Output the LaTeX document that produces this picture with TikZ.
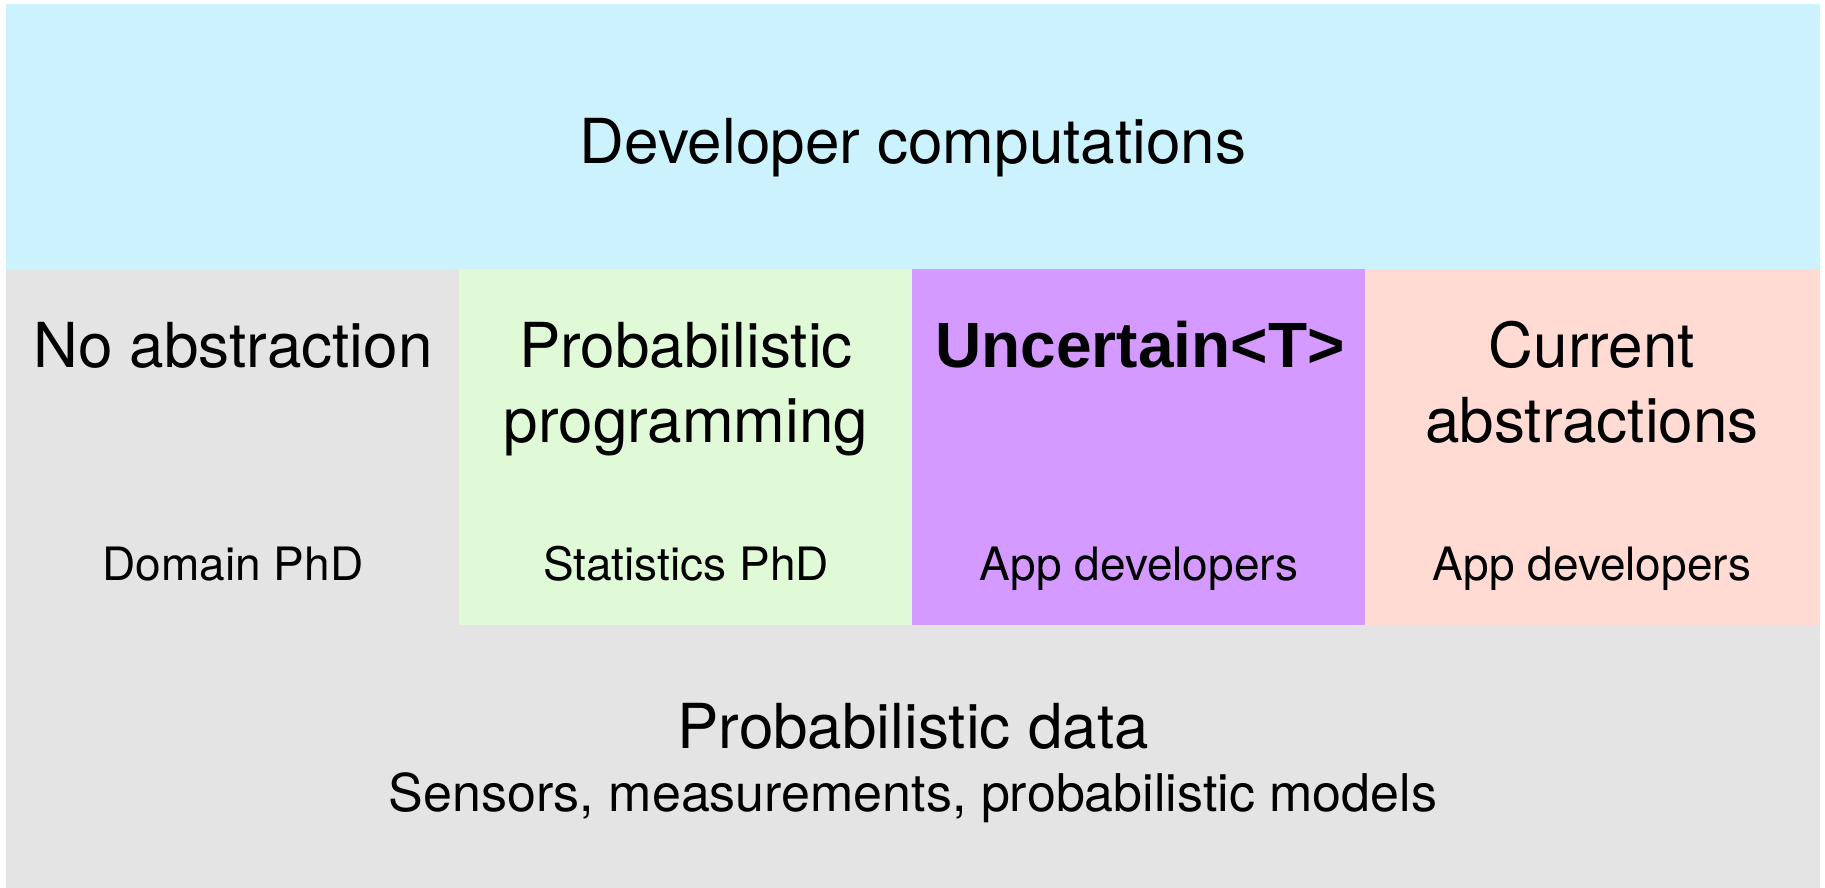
\documentclass[tikz,border=0pt]{standalone}
\usepackage{fontspec}
\setmainfont{TeX Gyre Heros}
\newfontfamily\boldarial{Liberation Sans}
\definecolor{topblue}{RGB}{204,242,254}
\definecolor{bggray}{RGB}{228,228,228}
\definecolor{stgreen}{RGB}{224,250,216}
\definecolor{unpurple}{RGB}{212,154,255}
\definecolor{curpeach}{RGB}{255,219,212}
\tikzset{
  bigtxt/.style={anchor=base, inner sep=0pt, font=\fontsize{62}{75}\selectfont},
  smalltxt/.style={anchor=base, inner sep=0pt, font=\fontsize{46}{55}\selectfont},
  subtxt/.style={anchor=base, inner sep=0pt, font=\fontsize{52}{60}\selectfont},
}
\begin{document}
\begin{tikzpicture}[x=1pt,y=-1pt]
\useasboundingbox (0,0) rectangle (1825,888);
\fill[white] (0,0) rectangle (1825,888);
% bands
\fill[topblue] (6,4) rectangle (1820,269);
\fill[bggray] (6,269) rectangle (1820,888);
\fill[stgreen] (459,269) rectangle (912,625);
\fill[unpurple] (912,269) rectangle (1365,625);
\fill[curpeach] (1365,269) rectangle (1819,625);
% texts
\node[bigtxt] (dev) at (913,163) {Developer computations};
\node[bigtxt] (noabs) at (233,367) {No abstraction};
\node[bigtxt] (prob1) at (686,367) {Probabilistic};
\node[bigtxt] (prob2) at (686,442) {programming};
\node[bigtxt, font=\fontsize{64}{75}\selectfont] (unc) at (1140,367) {\boldarial\bfseries Uncertain<T>};
\node[bigtxt] (cur1) at (1592,367) {Current};
\node[bigtxt] (cur2) at (1592,442) {abstractions};
\node[smalltxt] (dom) at (233,580) {Domain PhD};
\node[smalltxt] (stat) at (686,580) {Statistics PhD};
\node[smalltxt] (app1) at (1139,580) {App developers};
\node[smalltxt] (app2) at (1592,580) {App developers};
\node[bigtxt] (pdata) at (913,748) {Probabilistic data};
\node[subtxt] (sens) at (913,811) {Sensors, measurements, probabilistic models};
\end{tikzpicture}
\end{document}
